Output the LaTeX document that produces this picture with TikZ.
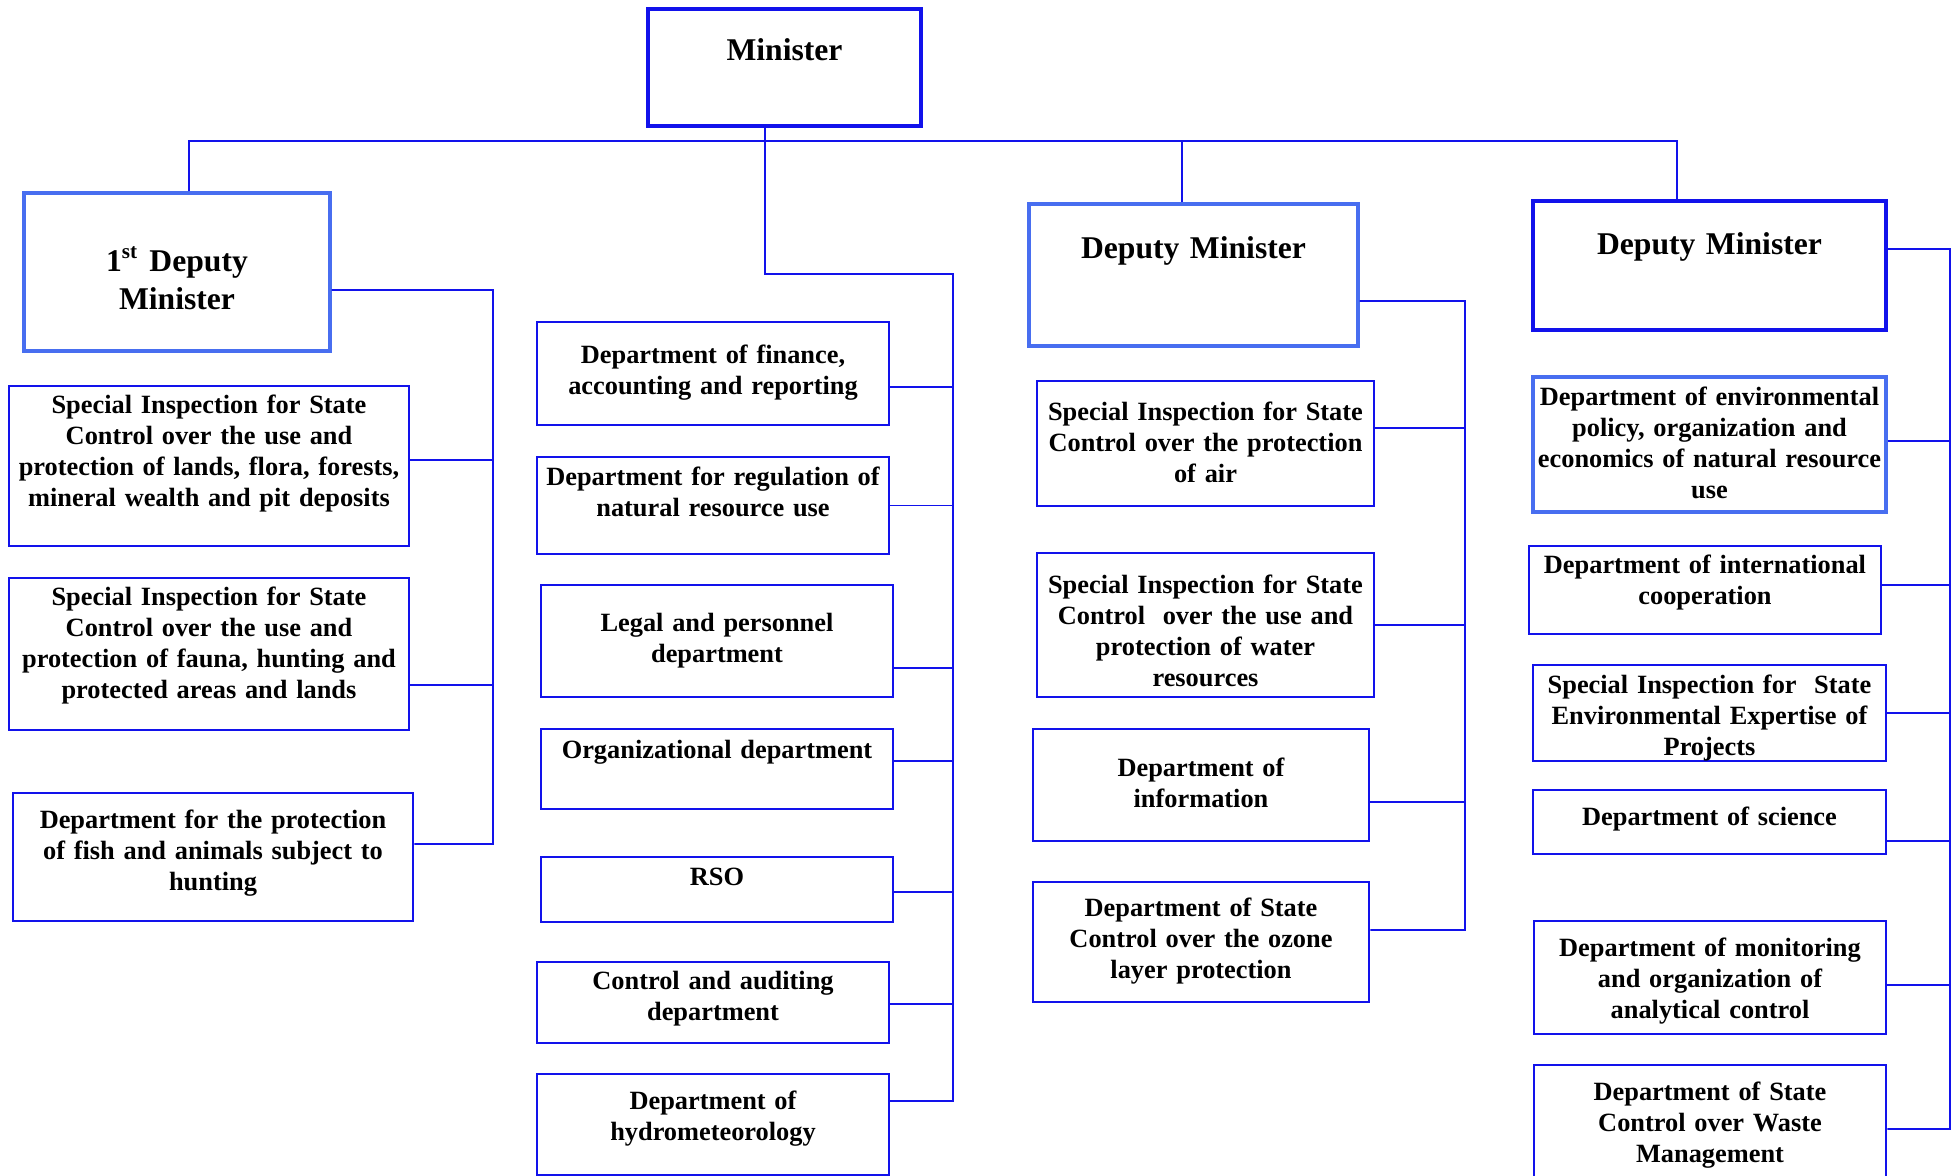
\documentclass[tikz,border=0pt]{standalone}
\usepackage{fontspec}
\setmainfont{Liberation Serif}
\definecolor{orgblue}{RGB}{18,18,235}
\definecolor{paleblue}{RGB}{72,110,240}
\tikzset{
	box/.style={draw=orgblue, line width=0.75pt, inner xsep=0.03cm, inner ysep=0pt, align=center, anchor=base, font=\fontsize{7.5}{8.8}\selectfont\bfseries},
	headbox/.style={box, font=\fontsize{9}{10.8}\selectfont\bfseries},
	pale/.style={draw=paleblue, line width=0.9pt},
	heavy/.style={line width=1.2pt},
	dims/.style n args={3}{text width=#1cm, text height=#2cm, text depth=#3cm},
	link/.style={draw=orgblue, line width=0.55pt}
}
\begin{document}
\begin{tikzpicture}
		\useasboundingbox (0,0) rectangle (19.59,-11.76);
		
		\node[headbox, heavy, dims={2.67}{0.52}{0.65}] (minister) at (7.845,-0.61) {Minister};
		
		\node[headbox, pale, dims={3.00}{0.79}{0.79}] (dep1) at (1.77,-2.72) {1\textsuperscript{st} Deputy\\Minister};
		\node[headbox, pale, dims={3.23}{0.55}{0.87}] (dm1) at (11.935,-2.59) {Deputy Minister};
		\node[headbox, line width=1.0pt, dims={3.47}{0.54}{0.75}] (dm2) at (17.095,-2.55) {Deputy Minister};
		
		\node[box, dims={3.94}{0.28}{1.32}] (land) at (2.09,-4.14) {Special Inspection for State\\Control over the use and\\protection of lands, flora, forests,\\mineral wealth and pit deposits};
		\node[box, dims={3.94}{0.28}{1.24}] (fauna) at (2.09,-6.06) {Special Inspection for State\\Control over the use and\\protection of fauna, hunting and\\protected areas and lands};
		\node[box, dims={3.94}{0.36}{0.92}] (fish) at (2.13,-8.29) {Department for the protection\\of fish and animals subject to\\hunting};
		
		\node[box, dims={3.46}{0.42}{0.61}] (fin) at (7.13,-3.64) {Department of finance,\\accounting and reporting};
		\node[box, dims={3.46}{0.29}{0.68}] (reg) at (7.13,-4.86) {Department for regulation of\\natural resource use};
		\node[box, dims={3.46}{0.47}{0.65}] (legal) at (7.17,-6.32) {Legal and personnel\\department};
		\node[box, dims={3.46}{0.30}{0.50}] (org) at (7.17,-7.59) {Organizational department};
		\node[box, dims={3.46}{0.29}{0.36}] (rso) at (7.17,-8.86) {RSO};
		\node[box, dims={3.46}{0.28}{0.53}] (ctrl) at (7.13,-9.90) {Control and auditing\\department};
		\node[box, dims={3.46}{0.36}{0.65}] (hydro) at (7.13,-11.10) {Department of\\hydrometeorology};
		
		\node[box, dims={3.31}{0.40}{0.85}] (air) at (12.055,-4.21) {Special Inspection for State\\Control over the protection\\of air};
		\node[box, dims={3.31}{0.41}{1.03}] (water) at (12.055,-5.94) {Special Inspection for State\\Control~ over the use and\\protection of water\\resources};
		\node[box, dims={3.30}{0.48}{0.64}] (info) at (12.01,-7.77) {Department of\\information};
		\node[box, dims={3.30}{0.35}{0.85}] (ozone) at (12.01,-9.17) {Department of State\\Control over the ozone\\layer protection};
		
		\node[box, pale, dims={3.47}{0.29}{1.06}] (env) at (17.095,-4.06) {Department of environmental\\policy, organization and\\economics of natural resource\\use};
		\node[box, dims={3.46}{0.28}{0.60}] (intl) at (17.05,-5.74) {Department of international\\cooperation};
		\node[box, dims={3.47}{0.29}{0.67}] (expert) at (17.095,-6.94) {Special Inspection for~ State\\Environmental Expertise of\\Projects};
		\node[box, dims={3.47}{0.36}{0.28}] (sci) at (17.095,-8.26) {Department of science};
		\node[box, dims={3.46}{0.36}{0.77}] (monit) at (17.10,-9.57) {Department of monitoring\\and organization of\\analytical control};
		\node[box, dims={3.46}{0.36}{0.81}] (waste) at (17.10,-11.01) {Department of State\\Control over Waste\\Management};
		
		\coordinate (bl) at (1.89,-1.41);
		\coordinate (bm) at (11.82,-1.41);
		\coordinate (br) at (16.77,-1.41);
		\coordinate (hook) at (7.65,-2.74);
		\coordinate (sp1) at (4.93,-2.90);
		\coordinate (sp2) at (9.53,-2.74);
		\coordinate (sp3) at (14.65,-3.01);
		\coordinate (sp4) at (19.50,-2.49);
		
		\draw[link] (dep1.north -| bl) -- (bl) -- (br) -- (dm2.north -| br);
		\draw[link] (bm) -- (dm1.north -| bm);
		
		\draw[link] ([yshift=-1.8mm]dep1.east) -- (sp1) |- ([yshift=1.3mm]fish.east);
		\draw[link] ([yshift=0.6mm]land.east) -| (sp1);
		\draw[link] ([yshift=-3.1mm]fauna.east) -| (sp1);
		
		\draw[link] (minister.south -| hook) -- (hook) -- (sp2) |- ([yshift=2.35mm]hydro.east);
		\draw[link] ([yshift=-1.35mm]fin.east) -| (sp2);
		\draw[link] (reg.east) -| (sp2);
		\draw[link] ([yshift=-2.7mm]legal.east) -| (sp2);
		\draw[link] ([yshift=0.8mm]org.east) -| (sp2);
		\draw[link] ([yshift=-0.25mm]rso.east) -| (sp2);
		\draw[link] ([yshift=-0.15mm]ctrl.east) -| (sp2);
		
		\draw[link] ([yshift=-2.6mm]dm1.east) -- (sp3) |- ([yshift=1.2mm]ozone.east);
		\draw[link] ([yshift=1.55mm]air.east) -| (sp3);
		\draw[link] (water.east) -| (sp3);
		\draw[link] ([yshift=-1.7mm]info.east) -| (sp3);
		
		\draw[link] ([yshift=1.65mm]dm2.east) -- (sp4) |- ([yshift=-0.55mm]waste.east);
		\draw[link] ([yshift=0.35mm]env.east) -| (sp4);
		\draw[link] ([yshift=0.5mm]intl.east) -| (sp4);
		\draw[link] (expert.east) -| (sp4);
		\draw[link] ([yshift=-1.9mm]sci.east) -| (sp4);
		\draw[link] ([yshift=-0.75mm]monit.east) -| (sp4);
\end{tikzpicture}
\end{document}
